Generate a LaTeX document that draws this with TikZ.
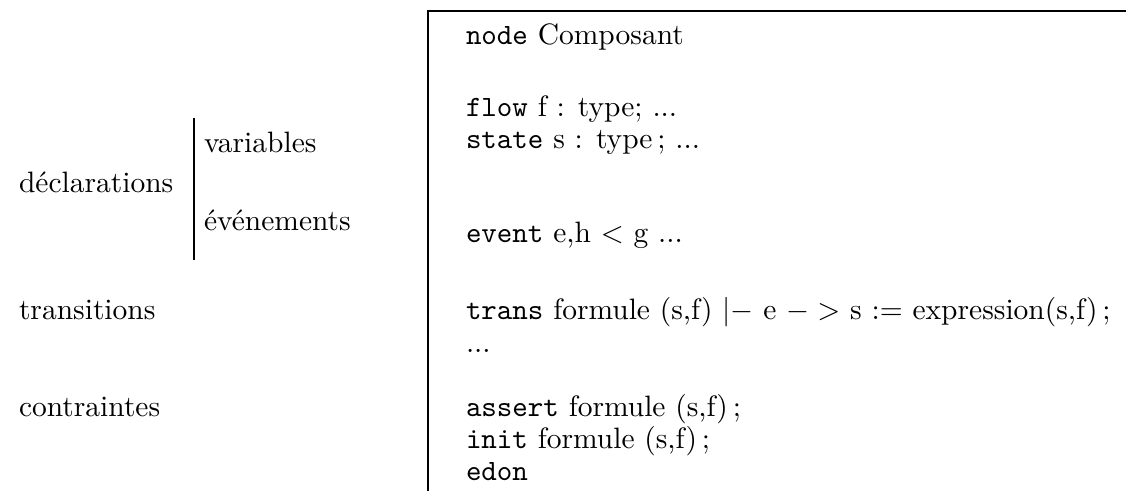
\documentclass[tikz,border=0pt]{standalone}
\begin{document}
\begin{tikzpicture}[x=0.33898pt,y=-0.33898pt,scale=2.95,transform shape,
  txt/.style={anchor=base west,inner sep=0pt,outer sep=0pt},
  rule/.style={line width=1.6pt,black}]
\useasboundingbox (0,0) rectangle (1126,491);
% left column
\node[txt] (decl) at (19,192) {déclarations};
\node[txt] (vars) at (204,152) {variables};
\node[txt] (evts) at (204,230) {événements};
\node[txt] (trs) at (19,319) {transitions};
\node[txt] (ctr) at (19,416) {contraintes};
\coordinate (bt) at (194,118);
\coordinate (bb) at (194,260);
\draw[rule] (bt) -- (bb);
% code box
\coordinate (tl) at (428,11);
\coordinate (tr) at (1126,11);
\coordinate (bl) at (428,491);
\draw[rule] (tr) -- (tl) -- (bl);
\node[txt] (l1) at (466,45) {\texttt{node} Composant};
\node[txt] (l2) at (466,117) {\texttt{flow} f : type; ...};
\node[txt] (l3) at (466,148) {\texttt{state} s : type\,; ...};
\node[txt] (l4) at (466,242) {\texttt{event} e,h $<$ g ...};
\node[txt] (l5) at (466,319) {\texttt{trans} formule (s,f) $|-$ e $->$ s $:=$ expression(s,f)\,;};
\node[txt] (l6) at (466,352) {...};
\node[txt] (l7) at (466,416) {\texttt{assert} formule (s,f)\,;};
\node[txt] (l8) at (466,448) {\texttt{init} formule (s,f)\,;};
\node[txt] (l9) at (466,480) {\texttt{edon}};
\end{tikzpicture}
\end{document}
